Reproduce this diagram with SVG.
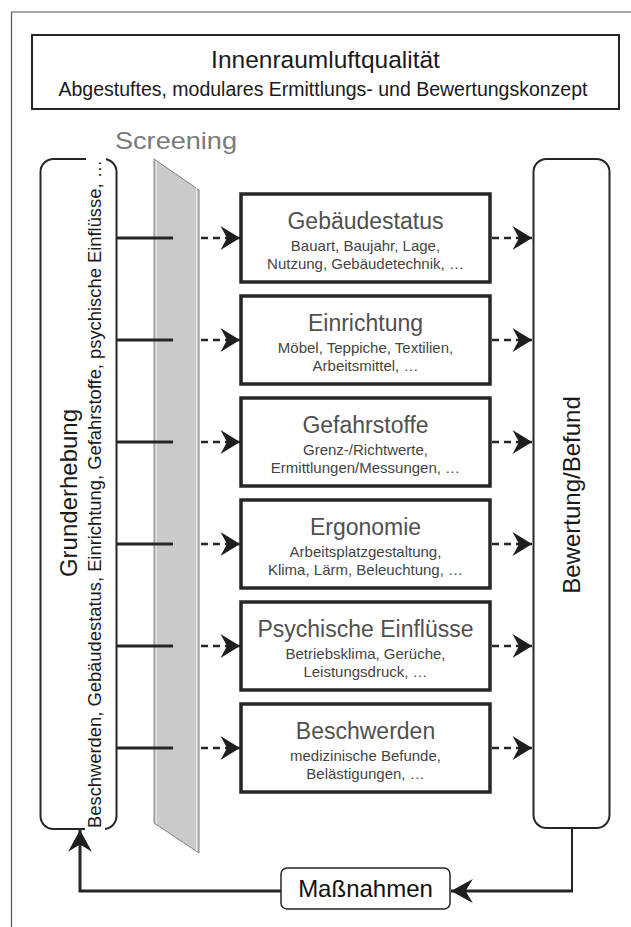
<svg xmlns="http://www.w3.org/2000/svg" width="631" height="927" viewBox="0 0 631 927">
<style>
  .t { font-family: "Liberation Sans", Arial, sans-serif; }
  .box { fill: #fff; stroke: #262626; stroke-width: 3.5; }
  .rbox { fill: #fff; stroke: #262626; stroke-width: 2; }
  .ntitle { font-size: 23px; fill: #505050; text-anchor: middle; }
  .nsub { font-size: 15px; fill: #444; text-anchor: middle; }
  .dash { stroke: #262626; stroke-width: 2.5; stroke-dasharray: 7 5; fill: none; }
  .solid { stroke: #262626; stroke-width: 3; fill: none; }
</style>
<defs>
  <marker id="ah" markerUnits="userSpaceOnUse" markerWidth="24" markerHeight="26" viewBox="-20 -12 22 24" refX="0" refY="0" orient="auto">
    <path d="M0,0 L-18,-11 L-12,0 L-18,11 Z" fill="#1e1e1e"/>
  </marker>
  <marker id="ah2" markerUnits="userSpaceOnUse" markerWidth="26" markerHeight="28" viewBox="-23 -13 25 26" refX="0" refY="0" orient="auto">
    <path d="M0,0 L-21,-11.5 L-14,0 L-21,11.5 Z" fill="#1e1e1e"/>
  </marker>
</defs>

<rect width="631" height="927" fill="#fff"/>
<path d="M11.5,927 V12 H631" fill="none" stroke="#555" stroke-width="1.2"/>

<g id="title">
  <rect x="32" y="35" width="587" height="74" fill="#fff" stroke="#262626" stroke-width="2"/>
  <text class="t" x="325.5" y="68" font-size="24.5" text-anchor="middle" fill="#1a1a1a">Innenraumluftqualität</text>
  <text class="t" x="323" y="96" font-size="19.5" text-anchor="middle" fill="#1a1a1a">Abgestuftes, modulares Ermittlungs- und Bewertungskonzept</text>
</g>

<g id="screening">
  <text class="t" x="115" y="149" font-size="24" fill="#7a7a7a" textLength="122" lengthAdjust="spacingAndGlyphs">Screening</text>
  <polygon points="154,159 199,190 199,853 154,823" fill="#c9cacc" stroke="#808080" stroke-width="1"/>
  <line x1="156.5" y1="161" x2="156.5" y2="824" stroke="#e6e6e6" stroke-width="1"/>
  <line x1="196.5" y1="188" x2="196.5" y2="851" stroke="#f0f0f0" stroke-width="1"/>
</g>

<g id="grunderhebung">
  <rect class="rbox" x="40.5" y="159" width="76" height="670" rx="13"/>
  <rect x="86" y="154" width="20" height="9" fill="#fff"/>
  <rect x="85" y="825" width="20" height="9" fill="#fff"/>
  <text class="t" transform="translate(77,493) rotate(-90)" font-size="24" text-anchor="middle" fill="#1a1a1a">Grunderhebung</text>
  <text class="t" transform="translate(101,494) rotate(-90)" font-size="18" text-anchor="middle" fill="#1a1a1a" textLength="668" lengthAdjust="spacingAndGlyphs">Beschwerden, Gebäudestatus, Einrichtung, Gefahrstoffe, psychische Einflüsse, …</text>
</g>

<g id="bewertung">
  <rect class="rbox" x="533.5" y="159" width="76" height="669" rx="13"/>
  <text class="t" transform="translate(580,495) rotate(-90)" font-size="24" text-anchor="middle" fill="#1a1a1a">Bewertung/Befund</text>
</g>

<g id="n1">
  <rect class="box" x="241" y="194" width="249" height="88"/>
  <text class="t ntitle" x="365.5" y="228.5">Gebäudestatus</text>
  <text class="t nsub" x="365.5" y="251">Bauart, Baujahr, Lage,</text>
  <text class="t nsub" x="365.5" y="268.5">Nutzung, Gebäudetechnik, …</text>
</g>
<g id="n2">
  <rect class="box" x="241" y="296" width="249" height="88"/>
  <text class="t ntitle" x="365.5" y="330.5">Einrichtung</text>
  <text class="t nsub" x="365.5" y="353">Möbel, Teppiche, Textilien,</text>
  <text class="t nsub" x="365.5" y="370.5">Arbeitsmittel, …</text>
</g>
<g id="n3">
  <rect class="box" x="241" y="398" width="249" height="88"/>
  <text class="t ntitle" x="365.5" y="432.5">Gefahrstoffe</text>
  <text class="t nsub" x="365.5" y="455">Grenz-/Richtwerte,</text>
  <text class="t nsub" x="365.5" y="472.5">Ermittlungen/Messungen, …</text>
</g>
<g id="n4">
  <rect class="box" x="241" y="500" width="249" height="88"/>
  <text class="t ntitle" x="365.5" y="534.5">Ergonomie</text>
  <text class="t nsub" x="365.5" y="557">Arbeitsplatzgestaltung,</text>
  <text class="t nsub" x="365.5" y="574.5">Klima, Lärm, Beleuchtung, …</text>
</g>
<g id="n5">
  <rect class="box" x="241" y="602" width="249" height="88"/>
  <text class="t ntitle" x="365.5" y="636.5">Psychische Einflüsse</text>
  <text class="t nsub" x="365.5" y="659">Betriebsklima, Gerüche,</text>
  <text class="t nsub" x="365.5" y="676.5">Leistungsdruck, …</text>
</g>
<g id="n6">
  <rect class="box" x="241" y="704" width="249" height="88"/>
  <text class="t ntitle" x="365.5" y="738.5">Beschwerden</text>
  <text class="t nsub" x="365.5" y="761">medizinische Befunde,</text>
  <text class="t nsub" x="365.5" y="778.5">Belästigungen, …</text>
</g>

<g id="massnahmen">
  <rect x="281" y="868" width="169" height="41" rx="6" fill="#fff" stroke="#262626" stroke-width="1.5"/>
  <text class="t" x="365.5" y="897" font-size="24" text-anchor="middle" fill="#111">Maßnahmen</text>
</g>

<g id="connectors">
  <path class="solid" d="M116.5,238 H173 M116.5,340 H173 M116.5,442 H173 M116.5,544 H173 M116.5,646 H173 M116.5,748 H173"/>
  <path class="dash" d="M201,238 H240" marker-end="url(#ah)"/>
  <path class="dash" d="M201,340 H240" marker-end="url(#ah)"/>
  <path class="dash" d="M201,442 H240" marker-end="url(#ah)"/>
  <path class="dash" d="M201,544 H240" marker-end="url(#ah)"/>
  <path class="dash" d="M201,646 H240" marker-end="url(#ah)"/>
  <path class="dash" d="M201,748 H240" marker-end="url(#ah)"/>
  <path class="dash" d="M492,238 H532" marker-end="url(#ah)"/>
  <path class="dash" d="M492,340 H532" marker-end="url(#ah)"/>
  <path class="dash" d="M492,442 H532" marker-end="url(#ah)"/>
  <path class="dash" d="M492,544 H532" marker-end="url(#ah)"/>
  <path class="dash" d="M492,646 H532" marker-end="url(#ah)"/>
  <path class="dash" d="M492,748 H532" marker-end="url(#ah)"/>
  <path d="M572,829 V891" stroke="#262626" stroke-width="2" fill="none"/>
  <path class="solid" d="M573,891 H451" marker-end="url(#ah2)"/>
  <path class="solid" d="M281,891 H80 V830" marker-end="url(#ah2)"/>
</g>
</svg>
